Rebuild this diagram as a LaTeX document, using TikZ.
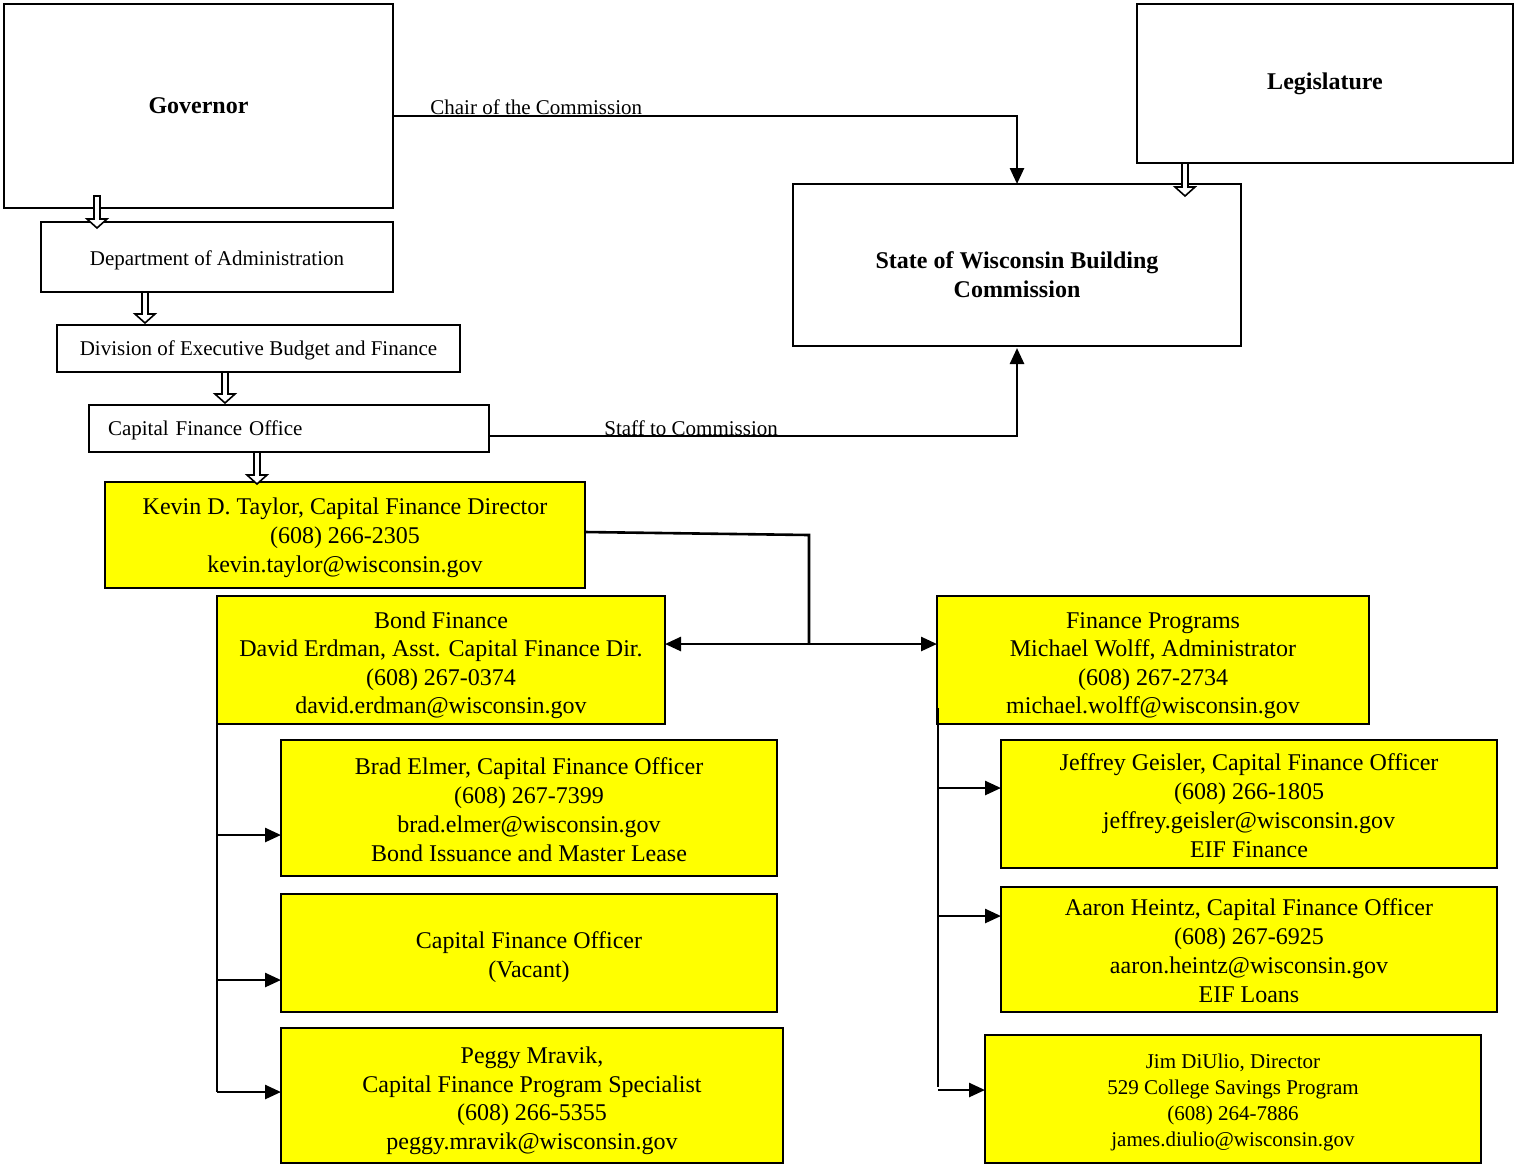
\documentclass[tikz,border=0pt]{standalone}
\usepackage{fontspec}
\setmainfont{Liberation Serif}
\usetikzlibrary{arrows.meta,calc}
\definecolor{boxyellow}{RGB}{255,255,0}
\newcommand\lift[1]{\rule{0pt}{#1pt}}
\tikzset{
  box/.style={draw, line width=1pt, inner sep=0pt, outer sep=0pt, align=center},
  ybox/.style={box, fill=boxyellow, font=\fontsize{12}{14.5}\selectfont},
  wsmall/.style={font=\fontsize{10.5}{13}\selectfont},
  wbold/.style={font=\fontsize{12}{14.5}\selectfont\bfseries},
  conn/.style={line width=1.3pt},
  arr/.style={conn, -{Triangle[width=7pt,length=8pt]}},
  darr/.style={conn, {Triangle[width=7pt,length=8pt]}-{Triangle[width=7pt,length=8pt]}},
  hollowst/.style={line width=0.8pt, fill=white, line join=miter},
  lbl/.style={inner sep=0pt, font=\fontsize{10.5}{13}\selectfont}
}
\newcommand\harrow[2]{%
  \path #1 coordinate (ha) #2 coordinate (hb);
  \draw[hollowst] ($(ha)+(-3,0)$) -- ($(hb)+(-3,-9)$) -- ($(hb)+(-10,-9)$) -- (hb)
    -- ($(hb)+(10,-9)$) -- ($(hb)+(3,-9)$) -- ($(ha)+(3,0)$) -- cycle;}
\begin{document}
\begin{tikzpicture}[x=0.5pt,y=-0.5pt]
\useasboundingbox (0,0) rectangle (1514,1164);
% top boxes
\node[box, wbold, minimum width=194.5pt, minimum height=102pt] (gov) at (198.5,106) {Governor};
\node[box, wbold, minimum width=188pt, minimum height=79.5pt] (leg) at (1325,83.5) {Legislature};
\node[box, wbold, minimum width=224pt, minimum height=81pt] (comm) at (1017,265) {\lift{18.3}State of Wisconsin Building\\Commission};
\node[box, wsmall, minimum width=176pt, minimum height=35pt] (dept) at (217,257) {\lift{10.3}Department of Administration};
\node[box, wsmall, minimum width=201.5pt, minimum height=23.5pt] (div) at (258.5,348.5) {\lift{9.3}Division of Executive Budget and Finance};
\node[box, wsmall, text width=181pt, inner xsep=9.5pt, align=left, minimum height=23.5pt] (cfo) at (289,428.5) {\lift{9.3}Capital Finance Office};
% yellow boxes
\node[ybox, minimum width=240pt, minimum height=53pt] (kevin) at (345,535) {\lift{11.4}Kevin D. Taylor, Capital Finance Director\\(608) 266-2305\\kevin.taylor@wisconsin.gov};
\node[ybox, font=\fontsize{12}{14.2}\selectfont, minimum width=224pt, minimum height=64pt] (bond) at (441,660) {\lift{13.4}Bond Finance\\David Erdman, Asst. Capital Finance Dir.\\(608) 267-0374\\david.erdman@wisconsin.gov};
\node[ybox, minimum width=248pt, minimum height=68pt] (brad) at (529,808) {\lift{10.4}Brad Elmer, Capital Finance Officer\\(608) 267-7399\\brad.elmer@wisconsin.gov\\Bond Issuance and Master Lease};
\node[ybox, minimum width=248pt, minimum height=59pt] (vac) at (529,953) {\lift{12.4}Capital Finance Officer\\(Vacant)};
\node[ybox, font=\fontsize{12}{14.3}\selectfont, minimum width=251pt, minimum height=67.5pt] (peggy) at (532,1095.5) {\lift{13.4}Peggy Mravik,\\Capital Finance Program Specialist\\(608) 266-5355\\peggy.mravik@wisconsin.gov};
\node[ybox, font=\fontsize{12}{14.2}\selectfont, minimum width=216pt, minimum height=64pt] (fp) at (1153,660) {\lift{13.4}Finance Programs\\Michael Wolff, Administrator\\(608) 267-2734\\michael.wolff@wisconsin.gov};
\node[ybox, minimum width=248pt, minimum height=64pt] (jeff) at (1249,804) {\lift{10.4}Jeffrey Geisler, Capital Finance Officer\\(608) 266-1805\\jeffrey.geisler@wisconsin.gov\\EIF Finance};
\node[ybox, minimum width=248pt, minimum height=62.5pt] (aaron) at (1249,949.5) {\lift{9.4}Aaron Heintz, Capital Finance Officer\\(608) 267-6925\\aaron.heintz@wisconsin.gov\\EIF Loans};
\node[ybox, wsmall, minimum width=248pt, minimum height=64pt] (jim) at (1233,1099) {\lift{10.3}Jim DiUlio, Director\\529 College Savings Program\\(608) 264-7886\\james.diulio@wisconsin.gov};
% hollow arrows
\coordinate (hx1) at (97,0);
\coordinate (hx2) at (145,0);
\coordinate (hx3) at (225,0);
\coordinate (hx4) at (257,0);
\coordinate (hx5) at (1185,0);
\harrow{($(gov.south -| hx1)+(0,-12)$)}{($(dept.north -| hx1)+(0,6)$)}
\harrow{(dept.south -| hx2)}{($(div.north -| hx2)+(0,-2)$)}
\harrow{(div.south -| hx3)}{($(cfo.north -| hx3)+(0,-2)$)}
\harrow{(cfo.south -| hx4)}{($(kevin.north -| hx4)+(0,2)$)}
\harrow{(leg.south -| hx5)}{($(comm.north -| hx5)+(0,12)$)}
% commission connectors
\draw[arr] ($(gov.east)+(0,10)$) -| (comm.north);
\node[lbl, anchor=base west] (chairlbl) at (430,114) {Chair of the Commission};
\draw[arr] ($(cfo.east)+(0,7.5)$) -| ($(comm.south)+(0,2)$);
\node[lbl, anchor=base west] (stafflbl) at (604,435) {Staff to Commission};
% Kevin to the two sections
\coordinate (kj) at (809,535);
\coordinate (hy) at (0,644);
\draw[conn] ($(kevin.east)+(0,-3)$) -- (kj) -- (kj |- hy);
\draw[darr] (bond.east |- hy) -- (fp.west |- hy);
% left bus
\coordinate (b1) at ($(brad.west)+(0,27)$);
\coordinate (b2) at ($(vac.west)+(0,27)$);
\coordinate (b3) at ($(peggy.west)+(0,-3.5)$);
\draw[conn] (bond.north west) -- (b3 -| bond.west);
\draw[arr] (b1 -| bond.west) -- (b1);
\draw[arr] (b2 -| bond.west) -- (b2);
\draw[arr] (b3 -| bond.west) -- (b3);
% right bus
\coordinate (rx) at (938,708);
\coordinate (r1) at ($(jeff.west)+(0,-16)$);
\coordinate (r2) at ($(aaron.west)+(0,-33.5)$);
\coordinate (r3) at ($(jim.west)+(0,-9)$);
\draw[conn] (rx) -- ($(r3 -| rx)+(0,-3)$);
\draw[arr] (r1 -| rx) -- (r1);
\draw[arr] (r2 -| rx) -- (r2);
\draw[arr] (r3 -| rx) -- (r3);
\end{tikzpicture}
\end{document}
